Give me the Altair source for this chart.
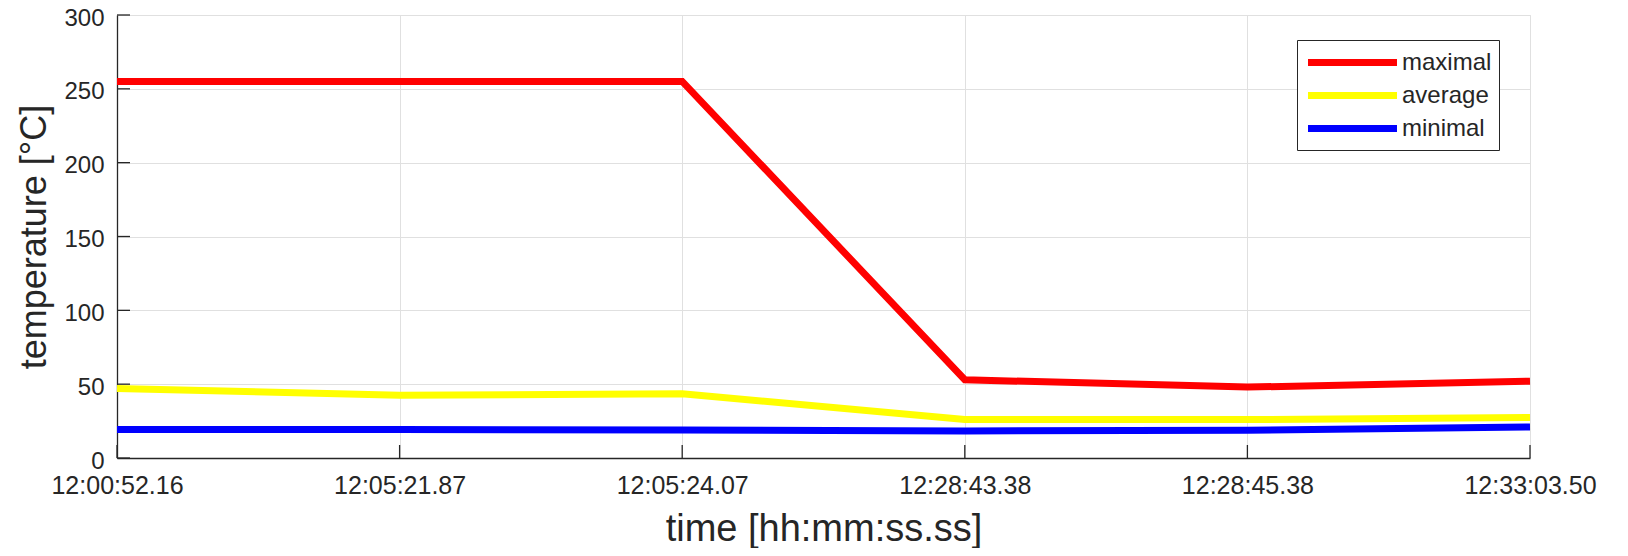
import altair as alt
import pandas as pd

times = ["12:00:52.16", "12:05:21.87", "12:05:24.07", "12:28:43.38", "12:28:45.38", "12:33:03.50"]
maximal = [255, 255, 255, 53, 48, 52]
average = [47, 42.5, 43.5, 26, 26, 27.5]
minimal = [19.3, 19.3, 19, 18.3, 18.8, 21]
series_names = ["maximal", "average", "minimal"]
series_colors = ["#ff0000", "#ffff00", "#0000ff"]
y_ticks = [0, 50, 100, 150, 200, 250, 300]
x_index = list(range(len(times)))

rows = []
for name, vals in zip(series_names, [maximal, average, minimal]):
    for i, (t, v) in enumerate(zip(times, vals)):
        rows.append({"idx": i, "time": t, "temp": v, "series": name})
df = pd.DataFrame(rows)

font = "Liberation Sans"
txt = "#262626"
label_expr = "[" + ",".join("'" + t + "'" for t in times) + "][datum.value]"

xscale = alt.Scale(domain=[0, len(times) - 1], nice=False, zero=False)
yscale = alt.Scale(domain=[0, 300], nice=False)

lines = alt.Chart(df).mark_line(strokeWidth=7, strokeJoin="miter", clip=False).encode(
    x=alt.X("idx:Q", scale=xscale,
            axis=alt.Axis(title="time [hh:mm:ss.ss]", values=x_index, labelExpr=label_expr,
                          labelAngle=0, labelFontSize=25, labelFlush=False,
                          labelColor=txt, labelFont=font, labelPadding=15,
                          titleFontSize=38, titleFont=font, titleColor=txt,
                          titleFontWeight="normal", titlePadding=12,
                          ticks=False, domainColor=txt, domainWidth=1.3,
                          grid=True, gridColor="#e0e0e0", gridWidth=1)),
    y=alt.Y("temp:Q", scale=yscale,
            axis=alt.Axis(title="temperature [°C]", values=y_ticks, labelFontSize=24,
                          labelColor=txt, labelFont=font, labelPadding=13, labelOffset=3,
                          titleFontSize=36, titleFont=font, titleColor=txt,
                          titleFontWeight="normal", titlePadding=10,
                          ticks=False, domainColor=txt, domainWidth=1.3,
                          grid=True, gridColor="#e0e0e0", gridWidth=1)),
    color=alt.Color("series:N", scale=alt.Scale(domain=series_names, range=series_colors),
                    legend=alt.Legend(title=None, orient="none", legendX=1180, legendY=25,
                                      symbolType="M-3.708,0H3.708", symbolSize=576,
                                      symbolStrokeWidth=7, symbolOffset=33,
                                      labelFontSize=24,
                                      labelFont=font, labelColor=txt, rowPadding=3,
                                      labelOffset=34,
                                      padding=7, strokeColor=txt, fillColor="white",
                                      offset=0)),
    order=alt.value(0),
)

ytick_df = pd.DataFrame({"v": y_ticks})
yticks = alt.Chart(ytick_df).mark_rule(color=txt, strokeWidth=1.3).encode(
    y=alt.Y("v:Q", scale=yscale), x=alt.value(0), x2=alt.value(13))

xtick_df = pd.DataFrame({"i": x_index})
xticks = alt.Chart(xtick_df).mark_rule(color=txt, strokeWidth=1.3).encode(
    x=alt.X("i:Q", scale=xscale), y=alt.value(443), y2=alt.value(430))

chart = alt.layer(lines, yticks, xticks).properties(
    width=1413, height=443,
    autosize=alt.AutoSizeParams(type="none"),
    padding={"left": 109, "top": 7, "right": 90, "bottom": 90},
).configure_view(stroke=None).configure(background="white")

chart.save("out.html", embed_options={"renderer": "svg", "actions": False})
